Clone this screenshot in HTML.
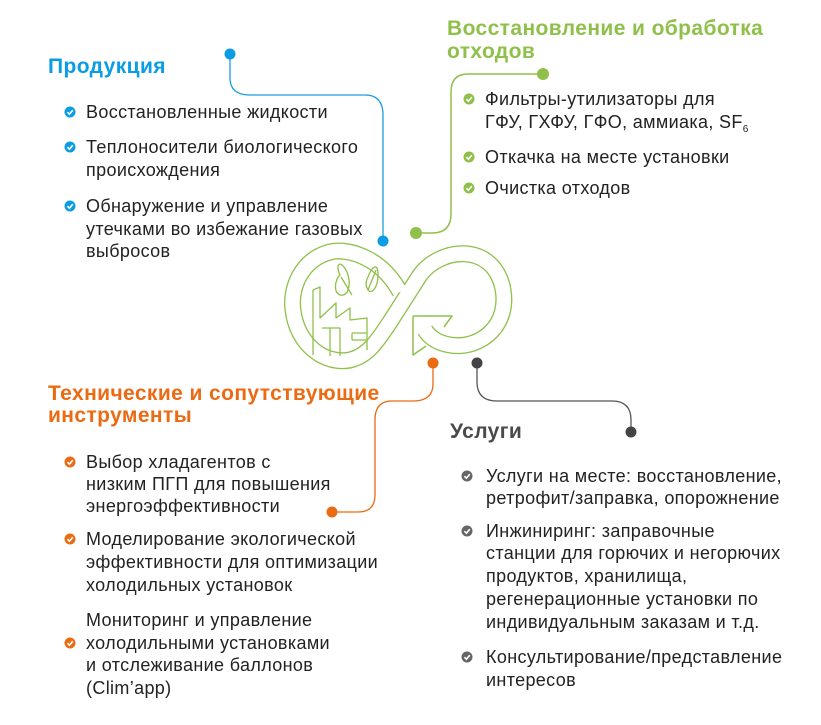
<!DOCTYPE html>
<html><head><meta charset="utf-8"><style>
html,body{margin:0;padding:0;background:#fff;}
svg{display:block;}
text{font-family:"Liberation Sans",sans-serif;}
.t{font-size:18px;fill:#222;letter-spacing:0.35px;}
.h{font-size:21px;font-weight:bold;letter-spacing:0.4px;}
</style></head><body>
<svg width="821" height="725" viewBox="0 0 821 725" xmlns="http://www.w3.org/2000/svg">
<defs>
<g id="chk"><circle r="5.5"/><path d="M-2.6,0.2 L-0.6,2.2 L2.8,-1.8" stroke="#fff" stroke-width="1.6" fill="none"/></g>
</defs>
<path d="M230,54 V78 Q230,95 250,95 H365 Q383,95 383,115 V241" stroke="#1a9ee0" stroke-width="1.3" fill="none"/>
<circle cx="230" cy="54" r="5.5" fill="#0a9de3"/><circle cx="383" cy="241" r="5.5" fill="#0a9de3"/>
<path d="M543,74 H468 Q451,74 451,92 V214 Q451,233 432,233 H416" stroke="#8fc04a" stroke-width="1.5" fill="none"/>
<circle cx="543" cy="74" r="6" fill="#8fc04a"/><circle cx="416" cy="233" r="6" fill="#8fc04a"/>
<path d="M433,363 V384 Q433,401 413,401 H392 Q375,401 375,420 V495 Q375,512 358,512 H332" stroke="#ec6a12" stroke-width="1.3" fill="none"/>
<circle cx="433" cy="363" r="5.5" fill="#ec6a12"/><circle cx="332" cy="512" r="5.5" fill="#ec6a12"/>
<path d="M477,363 V382 Q477,401 497,401 H612 Q631,401 631,420 V432" stroke="#555" stroke-width="1.3" fill="none"/>
<circle cx="477" cy="363" r="5.5" fill="#444"/><circle cx="631" cy="432" r="5.5" fill="#444"/>
<g fill="none" stroke-linejoin="round">
<path d="M400,292 C380,255 345,248 330,252 C300,260 290,290 293,310 C297,345 325,365 350,360 C368,356 378,340 390,322 L420,275 C440,248 490,242 502,285 C512,325 480,350 450,345 C438,343 430,338 425,330" stroke="#8fc04a" stroke-width="17"/>
<path d="M400,292 C380,255 345,248 330,252 C300,260 290,290 293,310 C297,345 325,365 350,360 C368,356 378,340 390,322 L420,275 C440,248 490,242 502,285 C512,325 480,350 450,345 C438,343 430,338 425,330" stroke="#fff" stroke-width="14.4"/>
<path d="M413,316 L413,355 L426,346 M413,316 L452,316 L444,327" stroke="#8fc04a" stroke-width="1.5"/>
<g stroke="#8fc04a" stroke-width="1.3">
<path d="M313,290 V355 M313,290 L320,287 V318 L336,303 V318 L350,308 V320 L367,318 V350"/>
<path d="M322,328 H340 V356 M330,328 V356 M352,333 H367 M352,340 H367 M352,333 V340"/>
<path d="M340,275 C335,265 340,258 347,272 C352,285 348,297 340,295 C333,292 335,280 340,275 Z"/>
<path d="M368,277 C372,266 378,262 378,275 C378,287 372,295 368,290 C365,285 366,281 368,277 Z M368,290 L376,270"/>
<path d="M341,277 L352,295"/>
</g>
</g>
<text x="48" y="73" class="h" fill="#0a9de3">Продукция</text>
<g fill="#0a9de3"><use href="#chk" x="70" y="112"/><use href="#chk" x="70" y="147"/><use href="#chk" x="70" y="206"/></g>
<text class="t" x="86" y="118">Восстановленные жидкости</text>
<text class="t" x="86" y="153">Теплоносители  биологического</text>
<text class="t" x="86" y="176">происхождения</text>
<text class="t" x="86" y="212">Обнаружение и управление</text>
<text class="t" x="86" y="235">утечками во избежание газовых</text>
<text class="t" x="86" y="257">выбросов</text>
<text x="447" y="35" class="h" fill="#8fc04a">Восстановление и обработка</text>
<text x="447" y="58" class="h" fill="#8fc04a">отходов</text>
<g fill="#8fc04a"><use href="#chk" x="469" y="99"/><use href="#chk" x="469" y="157"/><use href="#chk" x="469" y="188"/></g>
<text class="t" x="485" y="105">Фильтры-утилизаторы для</text>
<text class="t" x="485" y="128">ГФУ, ГХФУ, ГФО, аммиака, SF<tspan font-size="10" dy="4">6</tspan></text>
<text class="t" x="485" y="163">Откачка на месте установки</text>
<text class="t" x="485" y="194">Очистка отходов</text>
<text x="48" y="400" class="h" fill="#ec6a12">Технические и сопутствующие</text>
<text x="48" y="422" class="h" fill="#ec6a12">инструменты</text>
<g fill="#ec6a12"><use href="#chk" x="70" y="462"/><use href="#chk" x="70" y="539"/><use href="#chk" x="70" y="643"/></g>
<text class="t" x="86" y="468">Выбор хладагентов с</text>
<text class="t" x="86" y="490">низким ПГП для повышения</text>
<text class="t" x="86" y="512">энергоэффективности</text>
<text class="t" x="86" y="545">Моделирование экологической</text>
<text class="t" x="86" y="568">эффективности для оптимизации</text>
<text class="t" x="86" y="591">холодильных установок</text>
<text class="t" x="86" y="626">Мониторинг и управление</text>
<text class="t" x="86" y="649">холодильными установками</text>
<text class="t" x="86" y="671">и отслеживание баллонов</text>
<text class="t" x="86" y="694">(Clim’app)</text>
<text x="450" y="438" class="h" fill="#4a4a4a">Услуги</text>
<g fill="#666"><use href="#chk" x="467" y="476"/><use href="#chk" x="467" y="531"/><use href="#chk" x="467" y="657"/></g>
<text class="t" x="486" y="482">Услуги на месте: восстановление,</text>
<text class="t" x="486" y="504">ретрофит/заправка, опорожнение</text>
<text class="t" x="486" y="537">Инжиниринг: заправочные</text>
<text class="t" x="486" y="559">станции для горючих и негорючих</text>
<text class="t" x="486" y="582">продуктов, хранилища,</text>
<text class="t" x="486" y="605">регенерационные установки по</text>
<text class="t" x="486" y="628">индивидуальным заказам и т.д.</text>
<text class="t" x="486" y="663">Консультирование/представление</text>
<text class="t" x="486" y="686">интересов</text>
</svg>
</body></html>
